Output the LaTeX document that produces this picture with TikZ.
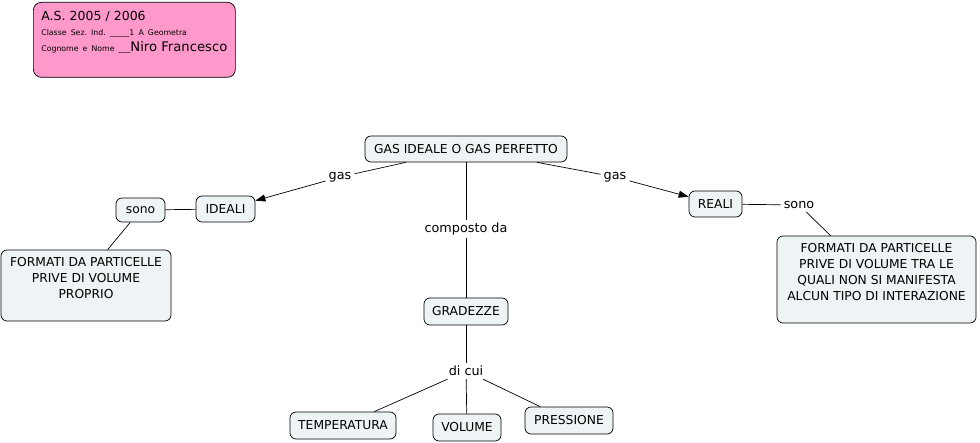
\documentclass[tikz,border=0pt]{standalone}
\usepackage{fontspec}
\setmainfont{DejaVu Sans}
\usetikzlibrary{arrows.meta}
\definecolor{boxfill}{HTML}{EEF3F6}
\definecolor{pinkfill}{HTML}{FF99CC}
\frenchspacing
\begin{document}
\begin{tikzpicture}[x=1pt,y=-1pt,
  every node/.style={font=\fontsize{12.3}{16}\selectfont, inner sep=0pt},
  cbox/.style={draw, rounded corners=6pt, fill=boxfill, line width=0.7pt, align=center},
  lbl/.style={inner sep=3pt, font=\fontsize{12.8}{16}\selectfont},
  conn/.style={line width=0.7pt},
  arr/.style={conn, -{Triangle[length=10pt,width=7pt]}}]
\useasboundingbox (0,0) rectangle (980,443);

% header
\node[draw, fill=pinkfill, rounded corners=8pt, line width=0.7pt,
  minimum width=202pt, minimum height=75pt, anchor=north west,
  inner xsep=8pt, text width=186pt, align=left] (head) at (33,2)
  {\raisebox{7pt}[\height][\depth]{\begin{tabular}{@{}l@{}}
   {\fontsize{12.5}{15}\selectfont A.S. 2005 / 2006}\\[-1pt]
   {\fontsize{7.8}{9}\selectfont Classe Sez.\ Ind.\ \_\_\_\_\_1 A Geometra}\\[0pt]
   {\fontsize{7.8}{9}\selectfont Cognome e Nome \_\_\_}{\fontsize{13.2}{15}\selectfont Niro Francesco}
  \end{tabular}}};

% concept nodes
\node[cbox, minimum width=202pt, minimum height=26pt] (gas) at (466,149) {GAS IDEALE O GAS PERFETTO};
\node[cbox, minimum width=59pt, minimum height=26pt] (ideali) at (225.5,209) {IDEALI};
\node[cbox, minimum width=49pt, minimum height=24pt] (sonoL) at (140.5,210) {sono};
\node[cbox, minimum width=170pt, minimum height=71pt] (formL) at (86,285.5)
  {\raisebox{6.5pt}[\height][\depth]{\begin{tabular}{@{}c@{}}FORMATI DA PARTICELLE\\PRIVE DI VOLUME\\PROPRIO\end{tabular}}};
\node[cbox, minimum width=53pt, minimum height=26pt] (reali) at (715.5,204) {REALI};
\node[lbl] (sonoR) at (799,205) {sono};
\node[cbox, minimum width=199pt, minimum height=87pt] (formR) at (876.5,279.5)
  {\raisebox{6.5pt}[\height][\depth]{\begin{tabular}{@{}c@{}}FORMATI DA PARTICELLE\\PRIVE DI VOLUME TRA LE\\QUALI NON SI MANIFESTA\\ALCUN TIPO DI INTERAZIONE\end{tabular}}};
\node[lbl] (g1) at (340,177) {gas};
\node[lbl] (g2) at (615,177) {gas};
\node[lbl] (comp) at (466,229) {composto da};
\node[cbox, minimum width=84pt, minimum height=27pt] (grad) at (466,311.5) {GRADEZZE};
\node[lbl] (dicui) at (466,371) {di cui};
\node[cbox, minimum width=106pt, minimum height=27pt] (temp) at (343,425.5) {TEMPERATURA};
\node[cbox, minimum width=68pt, minimum height=27pt] (vol) at (467,427.5) {VOLUME};
\node[cbox, minimum width=88pt, minimum height=27pt] (press) at (569,420.5) {PRESSIONE};

% connectors
\draw[conn] (gas) -- (g1);
\draw[arr] (g1) -- (ideali);
\draw[conn] (gas) -- (g2);
\draw[arr] (g2) -- (reali);
\draw[conn] (gas) -- (comp);
\draw[conn] (comp) -- (grad);
\draw[conn] (ideali) -- (sonoL);
\draw[conn] (sonoL) -- ([xshift=107pt]formL.north west);
\draw[conn] (reali) -- (sonoR);
\draw[conn] (sonoR) -- ([xshift=54pt]formR.north west);
\draw[conn] (grad) -- (dicui);
\draw[conn] (dicui) -- (temp);
\draw[conn] (dicui) -- (vol);
\draw[conn] (dicui) -- (press);
\end{tikzpicture}
\end{document}
